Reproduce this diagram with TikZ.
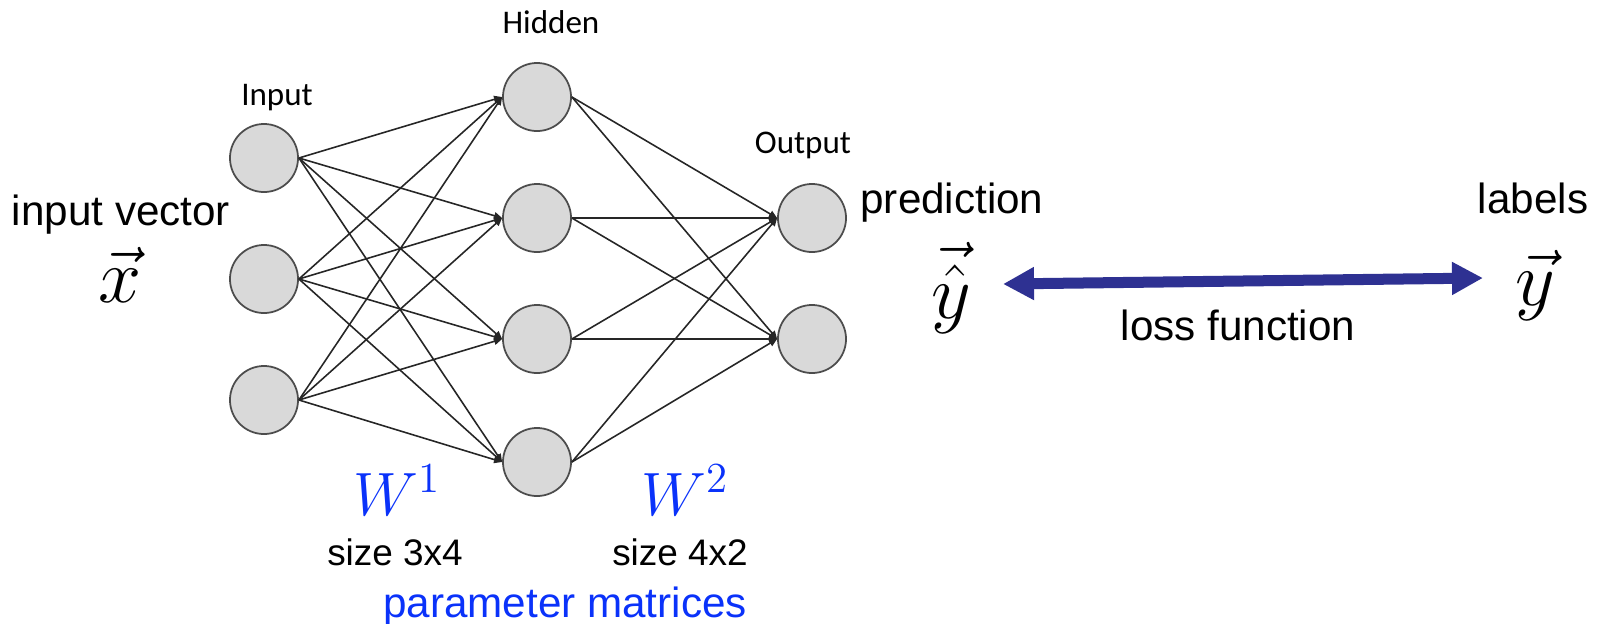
\documentclass[tikz,border=0pt]{standalone}
\usepackage{fix-cm}
\usepackage{fontspec}
\setmainfont{Liberation Sans}
\newfontfamily\lyrfont{Carlito}
\usetikzlibrary{arrows.meta}
\definecolor{pblue}{RGB}{10,50,250}
\definecolor{lossc}{RGB}{46,49,146}
\tikzset{
  >={Triangle[length=0.08cm,width=0.07cm]},
  neu/.style={circle,draw=black!70,fill=black!15,minimum size=0.68cm,inner sep=0pt,line width=0.5pt},
  ed/.style={->,draw=black!85,line width=0.45pt},
  lyr/.style={anchor=base,inner sep=0pt,font=\lyrfont\fontsize{9.4}{11}\selectfont},
  lbl/.style={anchor=base,inner sep=0pt,font=\fontsize{12}{14}\selectfont},
  sz/.style={anchor=base,inner sep=0pt,font=\fontsize{10.5}{12.5}\selectfont},
  vv/.style={anchor=base,inner sep=0pt,font=\fontsize{22}{26}\selectfont},
  wm/.style={anchor=base,inner sep=0pt,text=pblue,font=\fontsize{17.4}{20}\selectfont},
  lossarr/.style={line width=0.11cm,draw=lossc,{Triangle[length=0.31cm,width=0.31cm]}-{Triangle[length=0.31cm,width=0.31cm]}},
}
\begin{document}
\begin{tikzpicture}[x=0.01cm,y=-0.01cm]
\useasboundingbox (0,0) rectangle (1602,624);
% network
\node[neu] (i1) at (264,158){}; \node[neu] (i2) at (264,279){}; \node[neu] (i3) at (264,400){};
\node[neu] (h1) at (537,97){}; \node[neu] (h2) at (537,218){}; \node[neu] (h3) at (537,339){}; \node[neu] (h4) at (537,462){};
\node[neu] (o1) at (812,218){}; \node[neu] (o2) at (812,339){};
\node[lyr] (tin) at (277,105){Input}; \node[lyr] (thid) at (551,33){Hidden}; \node[lyr] (tout) at (803,153){Output};
\draw[ed] (i1.east)--(h1.west); \draw[ed] (i1.east)--(h2.west); \draw[ed] (i1.east)--(h3.west); \draw[ed] (i1.east)--(h4.west);
\draw[ed] (i2.east)--(h1.west); \draw[ed] (i2.east)--(h2.west); \draw[ed] (i2.east)--(h3.west); \draw[ed] (i2.east)--(h4.west);
\draw[ed] (i3.east)--(h1.west); \draw[ed] (i3.east)--(h2.west); \draw[ed] (i3.east)--(h3.west); \draw[ed] (i3.east)--(h4.west);
\draw[ed] (h1.east)--(o1.west); \draw[ed] (h2.east)--(o1.west); \draw[ed] (h3.east)--(o1.west); \draw[ed] (h4.east)--(o1.west);
\draw[ed] (h1.east)--(o2.west); \draw[ed] (h2.east)--(o2.west); \draw[ed] (h3.east)--(o2.west); \draw[ed] (h4.east)--(o2.west);
% vectors and loss
\node[lbl] (tvec) at (121,225){input vector}; \node[vv] (xv) at (120,302){$\vec{x}$};
\node[lbl] (tpred) at (952,213){prediction}; \node[vv] (yh) at (951,318){$\vec{\hat{y}}$};
\node[lbl] (tlab) at (1533,213){labels}; \node[vv] (yv) at (1535,305){$\vec{y}$};
\coordinate (lossL) at (1003,284); \coordinate (lossR) at (1483,278);
\draw[lossarr] (lossL)--(lossR);
\node[lbl] (tloss) at (1238,340){loss function};
% parameter matrices
\node[wm] (w1) at (397,515){$W^1$}; \node[wm] (w2) at (685,515){$W^2$};
\node[sz] (s1) at (395,565){size 3x4}; \node[sz] (s2) at (680,565){size 4x2};
\node[lbl,text=pblue] (tpar) at (565,617){parameter matrices};
\end{tikzpicture}
\end{document}
